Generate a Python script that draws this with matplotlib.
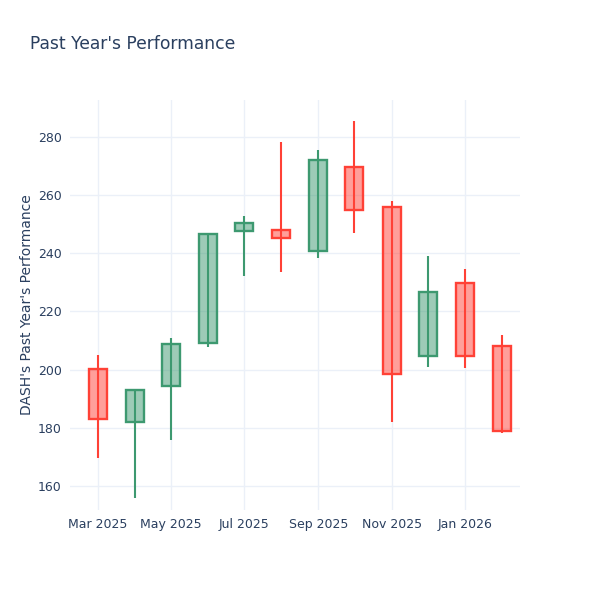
import matplotlib
matplotlib.use("Agg")
import matplotlib.pyplot as plt
import matplotlib.dates as mdates
from datetime import datetime

months = ["2025-03-01", "2025-04-01", "2025-05-01", "2025-06-01", "2025-07-01", "2025-08-01",
          "2025-09-01", "2025-10-01", "2025-11-01", "2025-12-01", "2026-01-01", "2026-02-01"]
opens = [200.1, 182.1, 194.5, 209.3, 247.7, 247.9, 240.9, 269.6, 256.0, 204.7, 229.9, 208.1]
highs = [205.0, 193.0, 210.8, 246.9, 252.8, 278.2, 275.5, 285.5, 257.9, 239.1, 234.5, 211.9]
lows = [169.7, 155.8, 175.8, 207.9, 232.3, 233.4, 238.3, 246.9, 182.1, 200.8, 200.4, 178.1]
closes = [183.0, 193.0, 208.7, 246.7, 250.3, 245.3, 272.1, 254.7, 198.5, 226.6, 204.8, 178.7]

inc_color = "#3D9970"
dec_color = "#FF4136"
text_color = "#2a3f5f"
grid_color = "#EBF0F8"

dates = [datetime.strptime(m, "%Y-%m-%d") for m in months]
x = mdates.date2num(dates)

fig = plt.figure(figsize=(6, 6), dpi=100)
ax = fig.add_axes([70 / 600, 90 / 600, 450 / 600, 410 / 600])

for xi, o, h, l, c in zip(x, opens, highs, lows, closes):
    col = inc_color if c >= o else dec_color
    ax.vlines(xi, l, h, color=col, linewidth=1.5, zorder=2)
    lo, hi = min(o, c), max(o, c)
    ax.bar(xi, hi - lo, bottom=lo, width=15, color=col, alpha=0.5, linewidth=0, zorder=3)
    ax.bar(xi, hi - lo, bottom=lo, width=15, facecolor="none", edgecolor=col, linewidth=1.7, zorder=4)

ax.set_ylim(151.7, 292.7)
ax.set_xlim(mdates.date2num(datetime(2025, 2, 6)), mdates.date2num(datetime(2026, 2, 16)))
ax.set_yticks([160, 180, 200, 220, 240, 260, 280])
ax.xaxis.set_major_locator(mdates.MonthLocator(bymonth=[1, 3, 5, 7, 9, 11]))
ax.xaxis.set_major_formatter(mdates.DateFormatter("%b %Y"))

for s in ax.spines.values():
    s.set_visible(False)
ax.grid(True, color=grid_color, linewidth=1, zorder=0)
ax.set_axisbelow(True)
ax.tick_params(axis="both", length=0, labelsize=9, colors=text_color, pad=6)
ax.set_ylabel("DASH's Past Year's Performance", fontsize=10, color=text_color, labelpad=3)

fig.text(30 / 600, 1 - 44 / 600, "Past Year's Performance", fontsize=12.3, color=text_color, va="center", ha="left")

fig.savefig("out.png", dpi=100, facecolor="white")
